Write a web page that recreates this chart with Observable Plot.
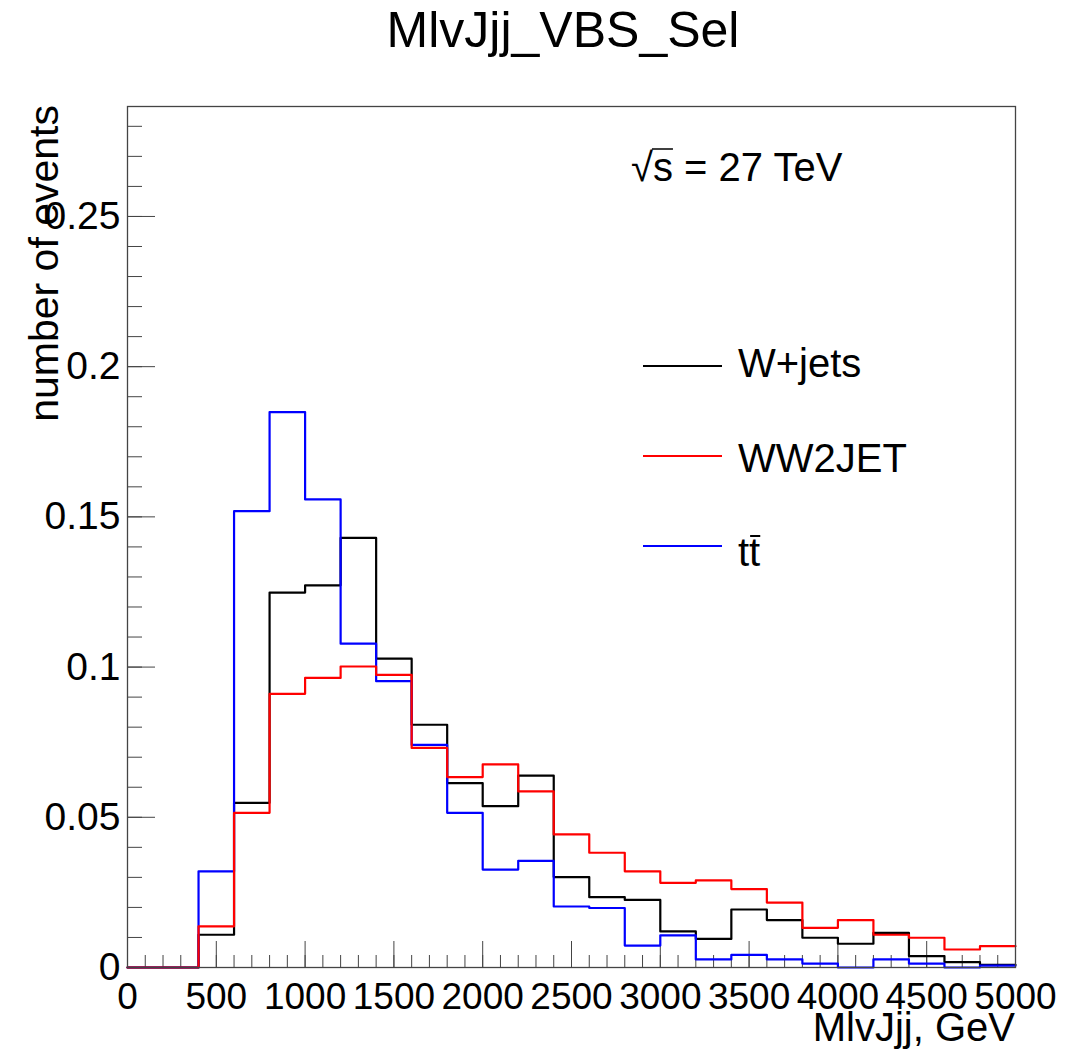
<!DOCTYPE html>
<html>
<head>
<meta charset="utf-8">
<script src="https://cdn.jsdelivr.net/npm/d3@7"></script>
<script src="https://cdn.jsdelivr.net/npm/@observablehq/plot@0.6"></script>
<style>
  html, body { margin: 0; padding: 0; background: #fff; }
  #chart svg { font-family: "Liberation Sans", Arial, Helvetica, sans-serif; display: block; }
</style>
</head>
<body>
<div id="chart"></div>
<script>
// ---- data ----
const chartTitle = "MlvJjj_VBS_Sel";
const xLabel = "MlvJjj, GeV";
const yLabel = "number of events";
const energyLabel = "= 27 TeV";

const binEdges = [0,200,400,600,800,1000,1200,1400,1600,1800,2000,2200,2400,2600,2800,3000,3200,3400,3600,3800,4000,4200,4400,4600,4800,5000];

const seriesNames = ["W+jets", "WW2JET", "tt"];
const seriesColors = ["#000000", "#ff0000", "#0000ff"];

const wjets = [0,0,0.0109,0.0548,0.1248,0.1272,0.1430,0.1028,0.0808,0.0614,0.0537,0.0639,0.0301,0.0234,0.0225,0.0120,0.0095,0.0193,0.0158,0.0099,0.0079,0.0115,0.0038,0.0018,0.0009];
const ww2jet = [0,0,0.0137,0.0515,0.0911,0.0964,0.1002,0.0974,0.0731,0.0634,0.0676,0.0586,0.0443,0.0382,0.0320,0.0282,0.0290,0.0261,0.0216,0.0132,0.0158,0.0109,0.0099,0.0060,0.0071];
const ttbar = [0,0,0.0320,0.1519,0.1849,0.1558,0.1078,0.0953,0.0741,0.0515,0.0326,0.0355,0.0203,0.0198,0.0073,0.0107,0.0027,0.0042,0.0027,0.0013,0,0.0027,0.0013,0,0.0006];

const xMajorTicks = [0,500,1000,1500,2000,2500,3000,3500,4000,4500,5000];
const xTickLabels = ["0","500","1000","1500","2000","2500","3000","3500","4000","4500","5000"];
const yMajorTicks = [0,0.05,0.1,0.15,0.2,0.25];
const yTickLabels = ["0","0.05","0.1","0.15","0.2","0.25"];
const xMinorTicks = d3.range(0, 5001, 100);
const yMinorTicks = d3.range(0, 29).map(i => i / 100);

const xDomain = [0, 5000];
const yDomain = [0, 0.2866];

// ---- build step tables from bins ----
function steps(values, name) {
  const out = [];
  values.forEach((v, i) => {
    out.push({x: binEdges[i], y: v, s: name});
    out.push({x: binEdges[i + 1], y: v, s: name});
  });
  return out;
}
const tables = {
  "W+jets": steps(wjets, "W+jets"),
  "WW2JET": steps(ww2jet, "WW2JET"),
  "tt": steps(ttbar, "tt")
};
const drawOrder = ["W+jets", "tt", "WW2JET"];

const W = 1088, H = 1055;
const mL = 127, mR = 73, mT = 106, mB = 88;

const plot = Plot.plot({
  width: W,
  height: H,
  marginLeft: mL,
  marginRight: mR,
  marginTop: mT,
  marginBottom: mB,
  style: {fontFamily: '"Liberation Sans", Arial, sans-serif', background: "#fff", color: "#000"},
  x: {domain: xDomain},
  y: {domain: yDomain},
  color: {domain: seriesNames, range: seriesColors},
  marks: [
    // minor ticks (inward)
    Plot.axisX({ticks: xMinorTicks, tickSize: -12, fill: "none", stroke: "#444", anchor: "bottom", label: null}),
    Plot.axisY({ticks: yMinorTicks, tickSize: -15, fill: "none", stroke: "#444", anchor: "left", label: null}),
    // major ticks (inward)
    Plot.axisX({ticks: xMajorTicks, tickSize: -26, fill: "none", stroke: "#444", anchor: "bottom", label: null}),
    Plot.axisY({ticks: yMajorTicks, tickSize: -28, fill: "none", stroke: "#444", anchor: "left", label: null}),
    // tick labels
    Plot.axisX({ticks: xMajorTicks, tickSize: 0, tickPadding: 15, fontSize: 37, anchor: "bottom", label: null,
      tickFormat: d => xTickLabels[xMajorTicks.indexOf(d)]}),
    Plot.axisY({ticks: yMajorTicks, tickSize: 0, tickPadding: 7, fontSize: 39, anchor: "left", label: null,
      tickFormat: d => yTickLabels[yMajorTicks.indexOf(d)]}),
    // histograms
    ...drawOrder.map(name => Plot.line(tables[name], {x: "x", y: "y", stroke: "s", strokeWidth: 2.2, curve: "linear"})),
    Plot.frame({stroke: "#444", strokeWidth: 1.3})
  ]
});

document.getElementById("chart").appendChild(plot);

// ---- annotations, title, legend ----
const svg = d3.select(plot);
const ann = svg.append("g").attr("fill", "#000").attr("text-anchor", "start")
  .style("font-family", '"Liberation Sans", Arial, sans-serif');

const xRight = W - mR;

// title
ann.append("text").attr("x", 563).attr("y", 47).attr("text-anchor", "middle")
  .attr("font-size", 50).text(chartTitle);

// axis titles
ann.append("text").attr("x", xRight).attr("y", 1041).attr("text-anchor", "end")
  .attr("font-size", 40).text(xLabel);
ann.append("text").attr("transform", "translate(58,105) rotate(-90)").attr("text-anchor", "end")
  .attr("font-size", 41).text(yLabel);

// sqrt(s) label
const sqX = 631;
const sq = ann.append("text").attr("x", sqX).attr("y", 181).attr("font-size", 40).attr("text-anchor", "start");
sq.append("tspan").text("\u221A");
sq.append("tspan").text("s ");
sq.append("tspan").text(energyLabel);
{
  const node = sq.node();
  const x0 = sqX + node.getSubStringLength(0, 1);
  const w = node.getSubStringLength(1, 1);
  ann.append("line").attr("x1", x0 - 1).attr("x2", x0 + w).attr("y1", 149).attr("y2", 149)
    .attr("stroke", "#000").attr("stroke-width", 1.5);
}

// legend
const legendY = [366, 456, 546];
const legendBaseline = [377, 472, 566];
seriesNames.forEach((name, i) => {
  const y = legendY[i];
  const b = legendBaseline[i];
  ann.append("line").attr("x1", 643).attr("x2", 722).attr("y1", y).attr("y2", y)
    .attr("stroke", seriesColors[i]).attr("stroke-width", 2);
  const t = ann.append("text").attr("x", 738).attr("y", b).attr("font-size", 40)
    .attr("text-anchor", "start").text(name);
  if (name === "tt") {
    const node = t.node();
    const x0 = 738 + node.getSubStringLength(0, 1);
    const w = node.getSubStringLength(1, 1);
    ann.append("line").attr("x1", x0 + 1).attr("x2", x0 + w).attr("y1", b - 30).attr("y2", b - 30)
      .attr("stroke", "#000").attr("stroke-width", 2);
  }
});
</script>
</body>
</html>
